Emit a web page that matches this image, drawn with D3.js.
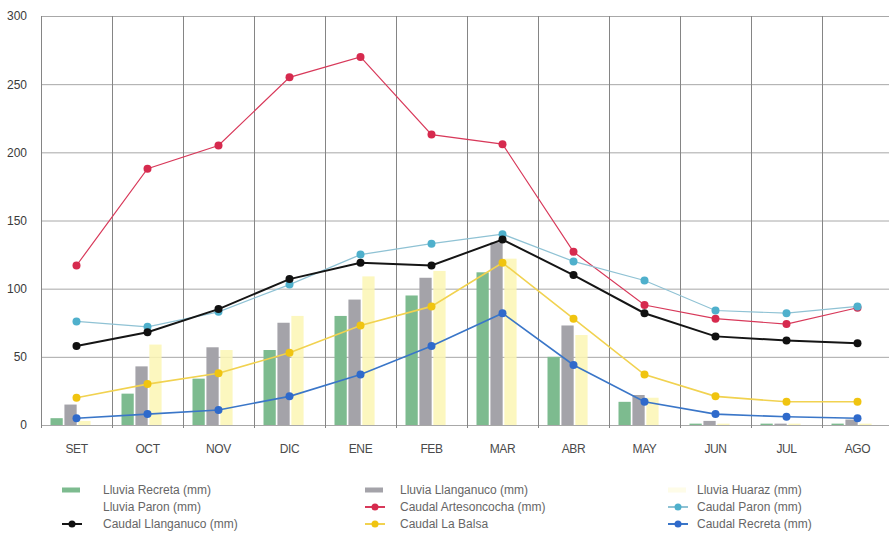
<!DOCTYPE html>
<html>
<head>
<meta charset="utf-8">
<script src="https://cdn.jsdelivr.net/npm/d3@7"></script>
<style>
  html, body { margin: 0; padding: 0; background: #ffffff; }
  svg { display: block; font-family: "Liberation Sans", Arial, sans-serif; }
</style>
</head>
<body>
<svg id="chart" width="889" height="541"></svg>
<script>
// Months of the hydrological year (September to August)
const months = ["SET", "OCT", "NOV", "DIC", "ENE", "FEB", "MAR", "ABR", "MAY", "JUN", "JUL", "AGO"];

// Monthly rainfall (mm), drawn as grouped bars
const lluviaRecreta    = [5, 23, 34, 55, 80, 95, 112, 50, 17, 1, 1, 1];
const lluviaLlanganuco = [15, 43, 57, 75, 92, 108, 134, 73, 22, 3, 1, 4];
const lluviaHuaraz     = [3, 59, 55, 80, 109, 113, 122, 66, 20, 1, 1, 1];

// Monthly discharge (mm), drawn as lines with markers
const caudalArtesoncocha = [117, 188, 205, 255, 270, 213, 206, 127, 88, 78, 74, 86];
const caudalParon        = [76, 72, 83, 103, 125, 133, 140, 120, 106, 84, 82, 87];
const caudalLlanganuco   = [58, 68, 85, 107, 119, 117, 136, 110, 82, 65, 62, 60];
const caudalLaBalsa      = [20, 30, 38, 53, 73, 87, 119, 78, 37, 21, 17, 17];
const caudalRecreta      = [5, 8, 11, 21, 37, 58, 82, 44, 17, 8, 6, 5];

const yTicks = [0, 50, 100, 150, 200, 250, 300];

const barSeries = [
  { name: "Lluvia Recreta (mm)",    values: lluviaRecreta,    color: "#7dbb8f", opacity: 1 },
  { name: "Lluvia Llanganuco (mm)", values: lluviaLlanganuco, color: "#a4a3a9", opacity: 1 },
  { name: "Lluvia Huaraz (mm)",     values: lluviaHuaraz,     color: "#fcf6b4", opacity: 0.85 }
];
const lineSeries = [
  { name: "Caudal Artesoncocha (mm)", values: caudalArtesoncocha, color: "#d8395a", dot: "#d62a4e", width: 1.2 },
  { name: "Caudal Paron (mm)",        values: caudalParon,        color: "#8fc2d4", dot: "#4fb0cc", width: 1.2 },
  { name: "Caudal Llanganuco (mm)",   values: caudalLlanganuco,   color: "#151515", dot: "#111111", width: 2 },
  { name: "Caudal La Balsa",          values: caudalLaBalsa,      color: "#f1d250", dot: "#f0c410", width: 1.6 },
  { name: "Caudal Recreta (mm)",      values: caudalRecreta,      color: "#3a76c8", dot: "#2f6acb", width: 1.6 }
];

const svg = d3.select("#chart");

const x = d3.scaleBand().domain(months).range([41, 893]).padding(0);
const y = d3.scaleLinear().domain([0, 300]).range([425, 16]);
const xInner = d3.scaleBand()
  .domain([0, 1, 2, 3])
  .range([9.5, 63.5])
  .paddingInner(0.12)
  .paddingOuter(0);

// Horizontal grid
svg.append("g")
  .attr("transform", "translate(41,0)")
  .call(d3.axisLeft(y).tickValues(yTicks).tickSize(-852).tickFormat(""))
  .call(g => g.select(".domain").remove())
  .call(g => g.selectAll("line").attr("stroke", "#a8a8a8").attr("stroke-width", 1));

// Vertical grid at month boundaries
svg.append("g")
  .selectAll("line")
  .data(months)
  .join("line")
  .attr("x1", d => x(d) + 0.5)
  .attr("x2", d => x(d) + 0.5)
  .attr("y1", y(300))
  .attr("y2", y(0) + 3)
  .attr("stroke", "#858585")
  .attr("stroke-width", 1);

// Y axis labels
svg.append("g")
  .attr("transform", "translate(27,0)")
  .call(d3.axisLeft(y).tickValues(yTicks).tickSize(0).tickPadding(0))
  .call(g => g.select(".domain").remove())
  .call(g => g.selectAll("text")
    .attr("font-size", 12)
    .attr("fill", "#3a3a3a")
    .attr("font-family", "'Liberation Sans', Arial, sans-serif"));

// X axis labels
svg.append("g")
  .attr("transform", `translate(0,${y(0)})`)
  .call(d3.axisBottom(x).tickSize(0).tickPadding(19))
  .call(g => g.select(".domain").remove())
  .call(g => g.selectAll("text")
    .attr("font-size", 12)
    .attr("letter-spacing", "-0.4px")
    .attr("fill", "#4a4a4a")
    .attr("font-family", "'Liberation Sans', Arial, sans-serif"));

// Rainfall bars
const barGroups = svg.append("g")
  .selectAll("g")
  .data(barSeries)
  .join("g")
  .attr("fill", d => d.color)
  .attr("fill-opacity", d => d.opacity);

barGroups.each(function (s, si) {
  d3.select(this).selectAll("rect")
    .data(s.values)
    .join("rect")
    .attr("x", (v, i) => x(months[i]) + xInner(si))
    .attr("width", xInner.bandwidth())
    .attr("y", v => y(v))
    .attr("height", v => y(0) - y(v));
});

// Discharge lines
const line = d3.line()
  .x((v, i) => x(months[i]) + x.bandwidth() / 2)
  .y(v => y(v));

lineSeries.forEach(s => {
  const g = svg.append("g");
  g.append("path")
    .datum(s.values)
    .attr("d", line)
    .attr("fill", "none")
    .attr("stroke", s.color)
    .attr("stroke-width", s.width);
  g.selectAll("circle")
    .data(s.values)
    .join("circle")
    .attr("cx", (v, i) => x(months[i]) + x.bandwidth() / 2)
    .attr("cy", v => y(v))
    .attr("r", 4)
    .attr("fill", s.dot);
});

// Legend
const legendItems = [
  { name: "Lluvia Recreta (mm)",      type: "bar",  color: "#7dbb8f", col: 0, row: 0 },
  { name: "Lluvia Llanganuco (mm)",   type: "bar",  color: "#a4a3a9", col: 1, row: 0 },
  { name: "Lluvia Huaraz (mm)",       type: "bar",  color: "#fefce8", col: 2, row: 0 },
  { name: "Lluvia Paron (mm)",        type: "bar",  color: "#ffffff", col: 0, row: 1 },
  { name: "Caudal Artesoncocha (mm)", type: "line", color: "#d8395a", dot: "#d62a4e", col: 1, row: 1 },
  { name: "Caudal Paron (mm)",        type: "line", color: "#8fc2d4", dot: "#4fb0cc", col: 2, row: 1 },
  { name: "Caudal Llanganuco (mm)",   type: "line", color: "#151515", dot: "#111111", col: 0, row: 2 },
  { name: "Caudal La Balsa",          type: "line", color: "#f1d250", dot: "#f0c410", col: 1, row: 2 },
  { name: "Caudal Recreta (mm)",      type: "line", color: "#3a76c8", dot: "#2f6acb", col: 2, row: 2 }
];
const colSwatchX = [62, 365, 668];
const colTextX = [103, 400, 697];
const rowY = [490, 507, 524];

const legend = svg.append("g");
legendItems.forEach(it => {
  const sx = colSwatchX[it.col], ty = rowY[it.row];
  if (it.type === "bar") {
    legend.append("rect")
      .attr("x", sx).attr("y", ty - 2.5)
      .attr("width", 18).attr("height", 5)
      .attr("fill", it.color);
  } else {
    legend.append("line")
      .attr("x1", sx).attr("x2", sx + 20)
      .attr("y1", ty).attr("y2", ty)
      .attr("stroke", it.color).attr("stroke-width", 2);
    legend.append("circle")
      .attr("cx", sx + 10).attr("cy", ty).attr("r", 3.5)
      .attr("fill", it.dot);
  }
  legend.append("text")
    .attr("x", colTextX[it.col])
    .attr("y", ty)
    .attr("dy", "0.35em")
    .attr("font-size", 12)
    .attr("fill", "#666666")
    .text(it.name);
});
</script>
</body>
</html>
